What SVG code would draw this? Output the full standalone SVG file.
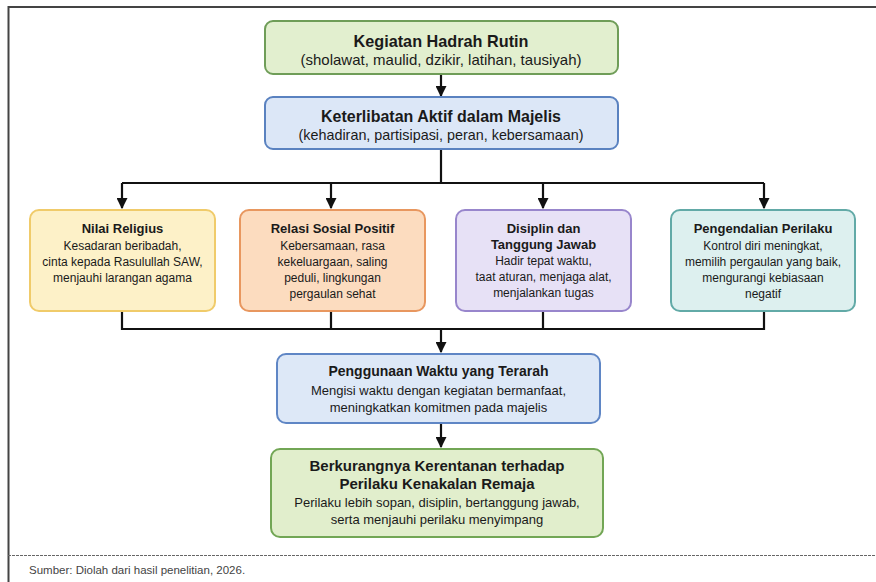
<svg xmlns="http://www.w3.org/2000/svg" width="876" height="582" viewBox="0 0 876 582">
<defs>
<style>
.t{font-family:"Liberation Sans",Arial,sans-serif;text-anchor:middle;fill:#1a1a1a}
.b{font-weight:bold}
.box{stroke-width:2}
.c{fill:none;stroke:#111;stroke-width:2.2}
</style>
<marker id="ah" viewBox="0 0 10 10" refX="9" refY="5" markerWidth="5" markerHeight="5" orient="auto" markerUnits="strokeWidth">
<path d="M0,0 L10,5 L0,10 z" fill="#111"/>
</marker>
</defs>
<rect width="876" height="582" fill="#ffffff"/>
<path d="M8.5,582 V7 H876" fill="none" stroke="#444" stroke-width="2"/>
<line x1="8" y1="555.5" x2="876" y2="555.5" stroke="#666" stroke-width="1" stroke-dasharray="3,1"/>
<text x="29" y="574" style="font-family:'Liberation Sans',Arial,sans-serif;font-size:11.5px;fill:#444">Sumber: Diolah dari hasil penelitian, 2026.</text>

<g id="connectors">
<line class="c" x1="441" y1="74" x2="441" y2="96" marker-end="url(#ah)"/>
<line class="c" x1="441" y1="149" x2="441" y2="183"/>
<line class="c" x1="122" y1="183" x2="764" y2="183"/>
<line class="c" x1="122" y1="183" x2="122" y2="208" marker-end="url(#ah)"/>
<line class="c" x1="331" y1="183" x2="331" y2="208" marker-end="url(#ah)"/>
<line class="c" x1="543" y1="183" x2="543" y2="208" marker-end="url(#ah)"/>
<line class="c" x1="764" y1="183" x2="764" y2="208" marker-end="url(#ah)"/>
<path class="c" d="M122,311 V329 H764 V311 M331,311 V329 M543,311 V329"/>
<line class="c" x1="441" y1="329" x2="441" y2="352" marker-end="url(#ah)"/>
<line class="c" x1="441" y1="423" x2="441" y2="447" marker-end="url(#ah)"/>
</g>

<g id="n1">
<rect class="box" x="265" y="21" width="353" height="53" rx="8" fill="#e2efcf" stroke="#6f9d58"/>
<text class="t b" x="441" y="47" font-size="17" textLength="175" lengthAdjust="spacingAndGlyphs">Kegiatan Hadrah Rutin</text>
<text class="t" x="441" y="65" font-size="15" textLength="281" lengthAdjust="spacingAndGlyphs">(sholawat, maulid, dzikir, latihan, tausiyah)</text>
</g>

<g id="n2">
<rect class="box" x="265" y="97" width="353" height="52" rx="8" fill="#dce7f7" stroke="#5a82c0"/>
<text class="t b" x="441" y="122" font-size="17" textLength="240" lengthAdjust="spacingAndGlyphs">Keterlibatan Aktif dalam Majelis</text>
<text class="t" x="441" y="140" font-size="15" textLength="285" lengthAdjust="spacingAndGlyphs">(kehadiran, partisipasi, peran, kebersamaan)</text>
</g>

<g id="n3">
<rect class="box" x="30" y="210" width="185" height="101" rx="9" fill="#fdf1c8" stroke="#f0cb6a"/>
<text class="t b" x="122.5" y="233" font-size="13">Nilai Religius</text>
<text class="t" x="122.5" y="250" font-size="12">Kesadaran beribadah,</text>
<text class="t" x="122.5" y="266" font-size="12">cinta kepada Rasulullah SAW,</text>
<text class="t" x="122.5" y="282" font-size="12">menjauhi larangan agama</text>
</g>

<g id="n4">
<rect class="box" x="240" y="210" width="185" height="101" rx="9" fill="#fcdcbf" stroke="#e8975f"/>
<text class="t b" x="332.5" y="233" font-size="13">Relasi Sosial Positif</text>
<text class="t" x="332.5" y="250" font-size="12">Kebersamaan, rasa</text>
<text class="t" x="332.5" y="266" font-size="12">kekeluargaan, saling</text>
<text class="t" x="332.5" y="282" font-size="12">peduli, lingkungan</text>
<text class="t" x="332.5" y="298" font-size="12">pergaulan sehat</text>
</g>

<g id="n5">
<rect class="box" x="456" y="210" width="175" height="101" rx="9" fill="#e7e1f6" stroke="#9886cc"/>
<text class="t b" x="543.5" y="233" font-size="13">Disiplin dan</text>
<text class="t b" x="543.5" y="249" font-size="13">Tanggung Jawab</text>
<text class="t" x="543.5" y="265" font-size="12">Hadir tepat waktu,</text>
<text class="t" x="543.5" y="281" font-size="12">taat aturan, menjaga alat,</text>
<text class="t" x="543.5" y="297" font-size="12">menjalankan tugas</text>
</g>

<g id="n6">
<rect class="box" x="671" y="210" width="184" height="101" rx="9" fill="#ddf0ef" stroke="#62aaa7"/>
<text class="t b" x="763" y="233" font-size="13">Pengendalian Perilaku</text>
<text class="t" x="763" y="250" font-size="12">Kontrol diri meningkat,</text>
<text class="t" x="763" y="266" font-size="12">memilih pergaulan yang baik,</text>
<text class="t" x="763" y="282" font-size="12">mengurangi kebiasaan</text>
<text class="t" x="763" y="298" font-size="12">negatif</text>
</g>

<g id="n7">
<rect class="box" x="277" y="354" width="323" height="69" rx="9" fill="#dde8f7" stroke="#5f86c5"/>
<text class="t b" x="438.5" y="376" font-size="14">Penggunaan Waktu yang Terarah</text>
<text class="t" x="438.5" y="395" font-size="13">Mengisi waktu dengan kegiatan bermanfaat,</text>
<text class="t" x="438.5" y="412" font-size="13">meningkatkan komitmen pada majelis</text>
</g>

<g id="n8">
<rect class="box" x="271" y="449" width="332" height="88" rx="9" fill="#e1eecc" stroke="#72a655"/>
<text class="t b" x="437" y="471" font-size="15">Berkurangnya Kerentanan terhadap</text>
<text class="t b" x="437" y="489" font-size="15">Perilaku Kenakalan Remaja</text>
<text class="t" x="437" y="507" font-size="13">Perilaku lebih sopan, disiplin, bertanggung jawab,</text>
<text class="t" x="437" y="524" font-size="13">serta menjauhi perilaku menyimpang</text>
</g>
</svg>
